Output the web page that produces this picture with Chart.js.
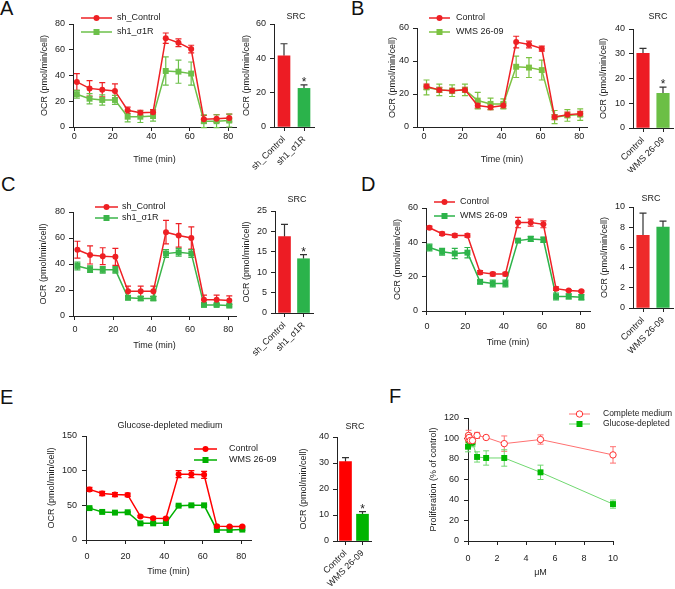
<!DOCTYPE html>
<html>
<head>
<meta charset="utf-8">
<script src="https://cdn.jsdelivr.net/npm/chart.js@4.4.1/dist/chart.umd.min.js"></script>
<style>
  body { margin: 0; background: #fff; }
  #fig { position: relative; width: 675px; height: 589px; overflow: hidden; background: #fff; font-family: 'Liberation Sans', Arial, sans-serif; }
  #fig canvas { position: absolute; }
  .tag { position: absolute; font-size: 20px; line-height: 20px; color: #111; }
</style>
</head>
<body>
<div id="fig">
  <div class="tag" style="left:0px;top:-2px">A</div>
  <div class="tag" style="left:351px;top:-2px">B</div>
  <div class="tag" style="left:1px;top:174px">C</div>
  <div class="tag" style="left:361px;top:174px">D</div>
  <div class="tag" style="left:0px;top:387px">E</div>
  <div class="tag" style="left:389px;top:386px">F</div>
</div>
<script>
// ---- data ----
const timeMin = [1.3, 7.9, 14.5, 21.1, 27.7, 34.3, 40.9, 47.5, 54.1, 60.7, 67.3, 73.9, 80.5];

// A: sh_Control vs sh1_σ1R
const aCtrl    = [35, 30, 29, 28, 13, 11, 11.5, 69, 65.5, 60.5, 6, 6.5, 7];
const aCtrlErr = [6.5, 6, 5.5, 5.5, 2.5, 2, 2, 4, 3, 3, 3, 3, 3];
const aKd      = [25.5, 22, 21, 21, 8, 8, 8.5, 43.5, 43, 41.5, 4.5, 4.5, 5];
const aKdErr   = [3, 4, 4, 3.5, 4, 4.5, 4, 11, 9, 9, 5, 5, 5];

// B: Control vs WMS 26-09
const bCtrl    = [24.5, 22.5, 22, 22.5, 13, 12, 13, 51.5, 50, 47.5, 6, 7.5, 8];
const bCtrlErr = [1.5, 1.5, 1.5, 1.5, 1.5, 1.5, 1.5, 3.5, 2, 1.5, 1.5, 1.5, 1.5];
const bDrug    = [24, 22.5, 22, 22.5, 16, 14, 14, 36.5, 36, 34.5, 6, 7, 7.5];
const bDrugErr = [4.5, 3.5, 3.5, 3.5, 5, 3.5, 3, 6.5, 6, 6, 4, 3.5, 3.5];

// C: sh_Control vs sh1_σ1R
const cCtrl    = [51, 47, 46, 45.5, 19, 19, 19, 64.5, 62, 60, 12.5, 12.5, 12];
const cCtrlErr = [6.5, 7, 6.5, 6.5, 4, 4, 4, 9, 9, 8.5, 3.5, 3.5, 3.5];
const cKd      = [38.5, 36, 35.5, 35.5, 14, 13.5, 13.5, 48, 49, 48, 8.5, 8.5, 8];
const cKdErr   = [3, 2.5, 2.5, 2.5, 1.5, 1.5, 1.5, 3, 3, 3, 1, 1, 1];

// D: Control vs WMS 26-09
const dCtrl    = [48.5, 45, 44, 44, 22.5, 21.5, 21.5, 51.5, 51.5, 50.5, 13, 12, 11.5];
const dCtrlErr = [1, 1, 1, 1, 1, 1, 1, 3, 2, 2, 1, 0.5, 0.5];
const dDrug    = [37, 34.5, 33.5, 34, 17, 16, 16, 41, 42, 41.5, 8.5, 8.5, 8];
const dDrugErr = [2, 2, 3, 3, 1, 2, 2, 1, 1.5, 1.5, 2, 1.5, 1.5];

// E: glucose-depleted medium
const eCtrl    = [73, 67, 65.5, 65, 34, 31.5, 31, 95, 95, 94, 20, 19.5, 19.5];
const eCtrlErr = [3, 3, 3, 2.5, 1.5, 1.5, 1.5, 5, 5, 5, 1.5, 1, 1];
const eDrug    = [46, 40.5, 39.5, 40, 24, 24, 24.5, 49.5, 50, 50, 14.5, 14.5, 15];
const eDrugErr = [1, 1, 1, 1, 1, 1, 1, 1, 1, 1, 1, 1, 1];

// SRC bar panels
const shLabels   = ['sh_Control', 'sh1_σ1R'];
const drugLabels = ['Control', 'WMS 26-09'];
const aSrc = [41.5, 22.5], aSrcErr = [7, 2];
const bSrc = [30.2, 14],   bSrcErr = [2, 2.5];
const cSrc = [18.7, 13.3], cSrcErr = [3, 1];
const dSrc = [7.2, 8.0],   dSrcErr = [2.2, 0.6];
const eSrc = [30.5, 10.3], eSrcErr = [1.6, 1];

// F: proliferation
const doseUM      = [0, 0.04, 0.08, 0.16, 0.31, 0.625, 1.25, 2.5, 5, 10];
const complete    = [100, 103, 101, 98, 98, 103, 101, 95, 99, 84];
const completeErr = [4, 5, 4, 4, 3, 3, 1, 7.5, 4.5, 8];
const glucose     = [92, 101, 98, 96, 96, 82, 81, 81, 67, 36];
const glucoseErr  = [5, 4, 4, 4, 4, 5, 7, 8, 7, 4];

// ---- styling ----
const INK = '#222';
const FONT = "'Liberation Sans', Arial, sans-serif";
const RED = '#ee2024';
Chart.defaults.font.family = FONT;
Chart.defaults.font.size = 9;
Chart.defaults.color = INK;

// error bars drawn under the markers
const errorBars = {
  id: 'errorBars',
  beforeDatasetsDraw(chart) {
    const ctx = chart.ctx;
    chart.data.datasets.forEach((ds, di) => {
      if (!ds.errors) return;
      const meta = chart.getDatasetMeta(di);
      const ys = chart.scales[meta.yAxisID];
      ctx.save();
      ctx.lineWidth = ds.errWidth || 1.2;
      meta.data.forEach((el, i) => {
        const v = meta.controller.getParsed(i).y, e = ds.errors[i];
        const top = ys.getPixelForValue(v + e);
        const bot = ds.upOnly ? el.y : ys.getPixelForValue(v - e);
        const c = ds.cap;
        ctx.strokeStyle = ds.errColor;
        ctx.beginPath();
        ctx.moveTo(el.x, bot); ctx.lineTo(el.x, top);
        ctx.moveTo(el.x - c, top); ctx.lineTo(el.x + c, top);
        if (!ds.upOnly) { ctx.moveTo(el.x - c, bot); ctx.lineTo(el.x + c, bot); }
        ctx.stroke();
      });
      ctx.restore();
    });
  }
};

function marker(ctx, ds, x, y) {
  ctx.save();
  if (ds.pointStyle === 'rect') {
    ctx.fillStyle = ds.pointBackgroundColor;
    ctx.fillRect(x - 3, y - 3, 6, 6);
  } else {
    ctx.beginPath();
    ctx.arc(x, y, ds.pointRadius, 0, Math.PI * 2);
    ctx.fillStyle = ds.pointBackgroundColor;
    ctx.fill();
    if (ds.hollow) { ctx.strokeStyle = ds.pointBorderColor; ctx.lineWidth = 1; ctx.stroke(); }
  }
  ctx.restore();
}

// titles, legends and significance stars (page coordinates)
function annot(spec) {
  return {
    id: 'annot',
    afterDraw(chart) {
      const ctx = chart.ctx;
      const ox = chart.canvas.offsetLeft, oy = chart.canvas.offsetTop;
      const font = (spec.fontSize || 9) + 'px ' + FONT;
      ctx.save();
      ctx.font = font;
      ctx.fillStyle = INK;
      ctx.textBaseline = 'middle';
      if (spec.title) {
        ctx.textAlign = 'center';
        ctx.fillText(spec.title.text, spec.title.x - ox, spec.title.y - oy);
      }
      if (spec.legend) {
        const [x1, x2, tx] = spec.legend.x;
        spec.legend.rows.forEach(([di, y]) => {
          const ds = chart.data.datasets[di];
          ctx.strokeStyle = ds.borderColor;
          ctx.lineWidth = ds.borderWidth;
          ctx.beginPath();
          ctx.moveTo(x1 - ox, y - oy); ctx.lineTo(x2 - ox, y - oy);
          ctx.stroke();
          marker(ctx, ds, (x1 + x2) / 2 - ox, y - oy);
          ctx.fillStyle = INK;
          ctx.textAlign = 'left';
          ctx.font = font;
          ctx.fillText(ds.label, tx - ox, y - oy);
        });
      }
      (spec.stars || []).forEach(([di, i]) => {
        const ds = chart.data.datasets[di], meta = chart.getDatasetMeta(di);
        const v = meta.controller.getParsed(i).y + ds.errors[i];
        const y = chart.scales[meta.yAxisID].getPixelForValue(v);
        ctx.font = '12px ' + FONT;
        ctx.textAlign = 'center';
        ctx.textBaseline = 'alphabetic';
        ctx.fillText('*', meta.data[i].x, y + 1);
      });
      ctx.restore();
    }
  };
}

function place(box) {
  const c = document.createElement('canvas');
  c.width = box.w; c.height = box.h;
  c.style.left = box.x + 'px'; c.style.top = box.y + 'px';
  document.getElementById('fig').appendChild(c);
  return c;
}

function axisLook() {
  return {
    grid: { drawOnChartArea: false, tickLength: 4, color: INK, offset: false },
    border: { color: INK, width: 1 }
  };
}

function yAxis(box, max, step, title, pad) {
  return Object.assign(axisLook(), {
    type: 'linear', min: 0, max,
    ticks: { stepSize: step, padding: pad, color: INK, includeBounds: false },
    title: { display: true, text: title, color: INK },
    afterFit: s => { s.width = box.plot.l - box.x; }
  });
}

function xAxis(box, min, max, step, title, pad) {
  return Object.assign(axisLook(), {
    type: 'linear', min, max,
    ticks: { stepSize: step, padding: pad, color: INK, includeBounds: false },
    afterBuildTicks: s => { s.ticks = s.ticks.filter(t => t.value >= 0 && Math.abs(t.value % step) < 1e-9); },
    title: { display: true, text: title, color: INK },
    afterFit: s => { s.height = box.y + box.h - box.plot.b; }
  });
}

function xCats(box) {
  return Object.assign(axisLook(), {
    type: 'category',
    ticks: { minRotation: 45, maxRotation: 45, autoSkip: false, padding: 3, color: INK },
    afterFit: s => { s.height = box.y + box.h - box.plot.b; }
  });
}

function series(label, xs, ys, errs, color, style, extra) {
  return Object.assign({
    label,
    data: xs.map((x, i) => ({ x, y: ys[i] })),
    errors: errs, errColor: color, cap: 3,
    showLine: true,
    borderColor: color, borderWidth: 1.5,
    pointStyle: style,
    pointRadius: style === 'rect' ? 4.2 : 3,
    pointBackgroundColor: color, pointBorderColor: color, pointBorderWidth: 0,
    clip: false
  }, extra || {});
}

function bars(labels, vals, errs, colors, thick) {
  return {
    labels,
    datasets: [{
      data: vals, errors: errs, upOnly: true, errColor: '#333', cap: 3.5,
      backgroundColor: colors, borderWidth: 0, barThickness: thick, clip: false
    }]
  };
}

function build(box, type, data, scales, spec) {
  return new Chart(place(box), {
    type,
    data,
    options: {
      responsive: false,
      animation: false,
      layout: { padding: { top: box.plot.t - box.y, right: box.x + box.w - box.plot.r, left: 0, bottom: 0 } },
      plugins: { legend: { display: false }, tooltip: { enabled: false } },
      scales
    },
    plugins: [errorBars, annot(spec)]
  });
}

const OCR = 'OCR (pmol/min/cell)';

// ---- A ----
const boxA = { x: 35, y: 0, w: 210, h: 169, plot: { l: 73, t: 24, r: 236, b: 127 } };
build(boxA, 'scatter', { datasets: [
  series('sh_Control', timeMin, aCtrl, aCtrlErr, RED, 'circle'),
  series('sh1_σ1R', timeMin, aKd, aKdErr, '#6cc04a', 'rect')
] }, { x: xAxis(boxA, -0.7, 84, 20, 'Time (min)', 0), y: yAxis(boxA, 80, 20, OCR, 4) },
{ legend: { x: [81, 112, 117], rows: [[0, 18], [1, 32]] } });

const boxAb = { x: 237, y: 0, w: 89, h: 172, plot: { l: 274, t: 24, r: 314, b: 127 } };
build(boxAb, 'bar', bars(shLabels, aSrc, aSrcErr, ['#ed1c24', '#2bb34b'], 12),
  { x: xCats(boxAb), y: yAxis(boxAb, 60, 20, OCR, 4) },
  { title: { text: 'SRC', x: 296, y: 17 }, stars: [[0, 1]] });

// ---- B ----
const boxB = { x: 383, y: 0, w: 212, h: 169, plot: { l: 417, t: 28, r: 587, b: 127 } };
build(boxB, 'scatter', { datasets: [
  series('Control', timeMin, bCtrl, bCtrlErr, RED, 'circle'),
  series('WMS 26-09', timeMin, bDrug, bDrugErr, '#7cc242', 'rect')
] }, { x: xAxis(boxB, -3.6, 84, 20, 'Time (min)', 0), y: yAxis(boxB, 60, 20, OCR, 4) },
{ legend: { x: [429, 450, 456], rows: [[0, 18], [1, 32]] } });

const boxBb = { x: 594, y: 0, w: 91, h: 172, plot: { l: 633, t: 29, r: 673, b: 128 } };
build(boxBb, 'bar', bars(drugLabels, bSrc, bSrcErr, ['#ed1c24', '#6cbf45'], 12.5),
  { x: xCats(boxBb), y: yAxis(boxBb, 40, 10, OCR, 4) },
  { title: { text: 'SRC', x: 658, y: 17 }, stars: [[0, 1]] });

// ---- C ----
const boxC = { x: 34, y: 190, w: 211, h: 165, plot: { l: 73, t: 212, r: 236, b: 316 } };
build(boxC, 'scatter', { datasets: [
  series('sh_Control', timeMin, cCtrl, cCtrlErr, RED, 'circle'),
  series('sh1_σ1R', timeMin, cKd, cKdErr, '#3bb54a', 'rect')
] }, { x: xAxis(boxC, -1, 84, 20, 'Time (min)', 4), y: yAxis(boxC, 80, 20, OCR, 4) },
{ legend: { x: [95, 118, 122], rows: [[0, 207], [1, 218]] } });

const boxCb = { x: 237, y: 190, w: 88, h: 167, plot: { l: 275, t: 211, r: 313, b: 313 } };
build(boxCb, 'bar', bars(shLabels, cSrc, cSrcErr, ['#ed1c24', '#2bb34b'], 12),
  { x: xCats(boxCb), y: yAxis(boxCb, 25, 5, OCR, 4) },
  { title: { text: 'SRC', x: 297, y: 200 }, stars: [[0, 1]] });

// ---- D ----
const boxD = { x: 388, y: 188, w: 210, h: 164, plot: { l: 426, t: 208, r: 590, b: 311 } };
build(boxD, 'scatter', { datasets: [
  series('Control', timeMin, dCtrl, dCtrlErr, RED, 'circle'),
  series('WMS 26-09', timeMin, dDrug, dDrugErr, '#2db34a', 'rect')
] }, { x: xAxis(boxD, -0.5, 85, 20, 'Time (min)', 6), y: yAxis(boxD, 60, 20, OCR, 4) },
{ legend: { x: [434, 455, 460], rows: [[0, 202], [1, 216]] } });

const boxDb = { x: 595, y: 188, w: 90, h: 170, plot: { l: 633, t: 207, r: 673, b: 308 } };
build(boxDb, 'bar', bars(drugLabels, dSrc, dSrcErr, ['#ee2a2a', '#2db34a'], 12.5),
  { x: xCats(boxDb), y: yAxis(boxDb, 10, 2, OCR, 4) },
  { title: { text: 'SRC', x: 651, y: 199 } });

// ---- E ----
const boxE = { x: 42, y: 400, w: 236, h: 181, plot: { l: 86, t: 436, r: 251, b: 540 } };
build(boxE, 'scatter', { datasets: [
  series('Control', timeMin, eCtrl, eCtrlErr, '#ff0000', 'circle'),
  series('WMS 26-09', timeMin, eDrug, eDrugErr, '#00b000', 'rect')
] }, { x: xAxis(boxE, -0.5, 85, 20, 'Time (min)', 7), y: yAxis(boxE, 150, 50, OCR, 5) },
{ title: { text: 'Glucose-depleted medium', x: 170, y: 426 },
  legend: { x: [194, 217, 229], rows: [[0, 449], [1, 460]] } });

const boxEb = { x: 294, y: 400, w: 88, h: 187, plot: { l: 337, t: 437, r: 371, b: 541 } };
build(boxEb, 'bar', bars(drugLabels, eSrc, eSrcErr, ['#ff0000', '#00b400'], 12),
  { x: xCats(boxEb), y: yAxis(boxEb, 40, 10, OCR, 4) },
  { title: { text: 'SRC', x: 355, y: 427 }, stars: [[0, 1]] });

// ---- F ----
const boxF = { x: 424, y: 385, w: 264, h: 197, plot: { l: 468, t: 418, r: 613, b: 541 } };
build(boxF, 'scatter', { datasets: [
  series('Complete medium', doseUM, complete, completeErr, '#ff7070', 'circle',
    { borderWidth: 1, pointRadius: 3.2, pointBackgroundColor: '#fff', pointBorderColor: '#ff3030', pointBorderWidth: 1, hollow: true, errWidth: 1 }),
  series('Glucose-depleted', doseUM, glucose, glucoseErr, '#70d870', 'rect',
    { borderWidth: 1, pointBackgroundColor: '#00b800', pointBorderColor: '#00b800', errWidth: 1 })
] }, { x: xAxis(boxF, 0, 10, 2, 'μM', 8), y: yAxis(boxF, 120, 20, 'Proliferation (% of control)', 5) },
{ fontSize: 8.5, legend: { x: [569, 590, 603], rows: [[0, 414], [1, 424]] } });
</script>
</body>
</html>
